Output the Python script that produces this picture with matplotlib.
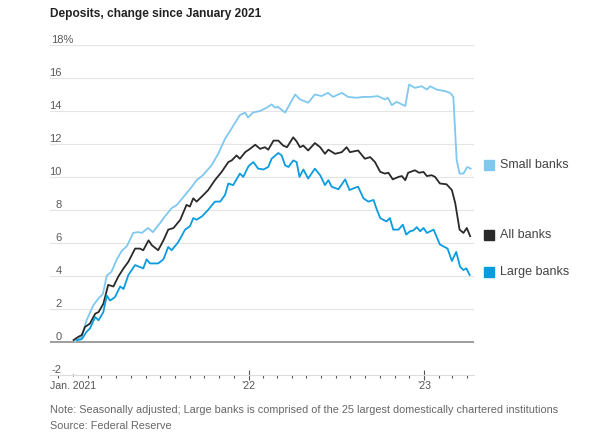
import matplotlib
matplotlib.use("Agg")
import matplotlib.pyplot as plt
import matplotlib.dates as mdates
import matplotlib.transforms as mtransforms
import pandas as pd

plt.rcParams['font.family'] = ['Liberation Sans', 'DejaVu Sans']

# Deposits, % change since January 2021
small_dates = ["2021-01-05", "2021-01-19", "2021-01-29", "2021-02-12", "2021-02-22", "2021-03-04",
               "2021-03-12", "2021-03-22", "2021-04-02", "2021-04-12", "2021-04-23", "2021-05-06",
               "2021-05-16", "2021-05-24", "2021-06-06", "2021-06-16", "2021-07-01", "2021-07-11",
               "2021-07-25", "2021-08-05", "2021-08-22", "2021-09-05", "2021-09-15", "2021-09-28",
               "2021-10-16", "2021-10-30", "2021-11-13", "2021-11-27", "2021-12-14", "2021-12-25",
               "2021-12-31", "2022-01-10", "2022-01-25", "2022-02-08", "2022-02-18", "2022-02-25",
               "2022-03-03", "2022-03-18", "2022-04-08", "2022-04-18", "2022-05-05", "2022-05-19",
               "2022-06-02", "2022-06-15", "2022-06-26", "2022-07-14", "2022-07-27", "2022-08-14",
               "2022-08-27", "2022-09-11", "2022-09-27", "2022-10-12", "2022-10-18", "2022-10-26",
               "2022-11-05", "2022-11-23", "2022-12-01", "2022-12-13", "2022-12-27", "2023-01-07",
               "2023-01-14", "2023-01-27", "2023-02-14", "2023-02-24", "2023-03-03", "2023-03-10",
               "2023-03-16", "2023-03-24", "2023-04-01", "2023-04-08"]
small_banks = [0.0, 0.3, 1.3, 2.2, 2.6, 2.9,
               4.0, 4.25, 5.0, 5.5, 5.8, 6.6,
               6.65, 6.6, 6.9, 6.65, 7.2, 7.6,
               8.1, 8.3, 8.9, 9.4, 9.8, 10.1,
               10.7, 11.4, 12.3, 12.95, 13.75, 13.9,
               13.6, 13.9, 14.0, 14.2, 14.4, 14.2,
               14.25, 13.9, 15.0, 14.7, 14.5, 15.0,
               14.9, 15.1, 14.85, 15.1, 14.85, 14.8,
               14.85, 14.85, 14.9, 14.7, 14.8, 14.35,
               14.55, 14.3, 15.6, 15.4, 15.5, 15.3,
               15.5, 15.3, 15.2, 15.1, 14.85, 11.0,
               10.2, 10.2, 10.6, 10.5]

all_dates = ["2021-01-02", "2021-01-12", "2021-01-19", "2021-01-26", "2021-02-05", "2021-02-16",
             "2021-02-23", "2021-03-05", "2021-03-15", "2021-03-26", "2021-04-05", "2021-04-16",
             "2021-04-26", "2021-05-10", "2021-05-20", "2021-05-27", "2021-06-07", "2021-06-14",
             "2021-06-27", "2021-07-08", "2021-07-18", "2021-07-29", "2021-08-12", "2021-08-25",
             "2021-09-01", "2021-09-08", "2021-09-15", "2021-09-29", "2021-10-09", "2021-10-23",
             "2021-11-06", "2021-11-20", "2021-11-27", "2021-12-07", "2021-12-14", "2021-12-25",
             "2022-01-04", "2022-01-15", "2022-01-25", "2022-02-04", "2022-02-11", "2022-02-22",
             "2022-03-04", "2022-03-14", "2022-03-22", "2022-04-04", "2022-04-11", "2022-04-18",
             "2022-04-25", "2022-05-05", "2022-05-19", "2022-05-30", "2022-06-09", "2022-06-16",
             "2022-06-30", "2022-07-14", "2022-07-24", "2022-07-31", "2022-08-17", "2022-08-31",
             "2022-09-11", "2022-09-21", "2022-10-02", "2022-10-12", "2022-10-19", "2022-10-28",
             "2022-11-09", "2022-11-16", "2022-11-23", "2022-11-29", "2022-12-13", "2022-12-22",
             "2022-12-31", "2023-01-07", "2023-01-17", "2023-01-24", "2023-02-03", "2023-02-17",
             "2023-02-28", "2023-03-07", "2023-03-16", "2023-03-24", "2023-03-31", "2023-04-07"]
all_banks = [0.1, 0.3, 0.4, 0.9, 1.1, 1.7,
             1.8, 2.3, 3.45, 3.35, 3.95, 4.45,
             4.85, 5.65, 5.65, 5.55, 6.15, 5.85,
             5.55, 6.15, 6.8, 6.9, 7.4, 8.3,
             8.2, 8.7, 8.5, 8.9, 9.2, 9.8,
             10.3, 10.9, 11.0, 11.3, 11.1, 11.5,
             11.7, 11.95, 11.7, 11.8, 11.65, 12.2,
             12.2, 11.9, 11.8, 12.4, 12.15, 11.8,
             11.9, 11.6, 12.05, 11.8, 11.4, 11.65,
             11.4, 11.5, 11.8, 11.5, 11.6, 11.1,
             11.2, 10.9, 10.3, 10.2, 10.25, 9.85,
             10.0, 10.05, 9.8, 10.25, 10.4, 10.25,
             10.3, 10.05, 10.1, 10.0, 9.6, 9.55,
             9.2, 8.4, 6.8, 6.6, 6.9, 6.4]

large_dates = ["2021-01-09", "2021-01-19", "2021-01-29", "2021-02-05", "2021-02-16", "2021-02-23",
               "2021-03-05", "2021-03-12", "2021-03-19", "2021-03-29", "2021-04-09", "2021-04-16",
               "2021-04-26", "2021-05-10", "2021-05-27", "2021-06-03", "2021-06-10", "2021-06-27",
               "2021-07-08", "2021-07-18", "2021-07-25", "2021-08-08", "2021-08-22", "2021-09-01",
               "2021-09-08", "2021-09-15", "2021-09-26", "2021-10-09", "2021-10-23", "2021-11-03",
               "2021-11-13", "2021-11-20", "2021-11-30", "2021-12-14", "2021-12-21", "2022-01-01",
               "2022-01-11", "2022-01-21", "2022-02-01", "2022-02-11", "2022-02-18", "2022-03-04",
               "2022-03-11", "2022-03-18", "2022-03-25", "2022-04-04", "2022-04-11", "2022-04-17",
               "2022-04-25", "2022-05-05", "2022-05-19", "2022-05-30", "2022-06-09", "2022-06-16",
               "2022-06-23", "2022-07-07", "2022-07-21", "2022-07-30", "2022-08-07", "2022-08-17",
               "2022-08-28", "2022-09-07", "2022-09-18", "2022-09-25", "2022-10-02", "2022-10-08",
               "2022-10-15", "2022-10-22", "2022-10-29", "2022-11-09", "2022-11-18", "2022-11-25",
               "2022-12-03", "2022-12-10", "2022-12-17", "2022-12-24", "2022-12-31", "2023-01-07",
               "2023-01-21", "2023-02-03", "2023-02-19", "2023-02-28", "2023-03-09", "2023-03-17",
               "2023-03-24", "2023-03-30", "2023-04-06"]
large_banks = [0.1, 0.15, 0.6, 0.8, 1.5, 1.3,
               1.8, 2.8, 2.5, 2.7, 3.35, 3.2,
               4.05, 4.65, 4.45, 5.0, 4.75, 4.75,
               5.0, 5.75, 5.55, 6.05, 6.8, 7.0,
               7.5, 7.4, 7.6, 8.0, 8.5, 8.5,
               8.9, 9.6, 9.5, 10.2, 10.0, 10.65,
               10.9, 10.5, 10.45, 10.6, 11.1, 11.45,
               11.3, 10.7, 10.6, 11.0, 10.9, 10.0,
               10.45, 9.9, 10.5, 10.1, 9.5, 9.8,
               9.4, 9.25, 9.85, 9.2, 9.3, 9.4,
               8.7, 8.5, 8.6, 8.0, 7.5, 7.4,
               7.3, 7.5, 6.8, 6.8, 7.1, 6.5,
               6.7, 6.75, 6.95, 6.7, 6.9, 6.6,
               6.8, 5.9, 5.65, 4.9, 5.45, 4.55,
               4.35, 4.45, 4.05]

series_names = ["Small banks", "All banks", "Large banks"]
series_colors = ["#80c8ee", "#2a2a2a", "#0b9ce0"]
label_y = [10.7, 6.5, 4.2]

y_ticks = [-2, 0, 2, 4, 6, 8, 10, 12, 14, 16]
x_ticks = ["2021-01-01", "2022-01-01", "2023-01-01"]
x_labels = ["Jan. 2021", "\u201922", "\u201923"]

fig = plt.figure(figsize=(6.02, 4.4), dpi=100)
ax = fig.add_axes([50 / 602, 1 - 374.7 / 440, 424 / 602, (374.7 - 45) / 440])

series = [(small_dates, small_banks), (all_dates, all_banks), (large_dates, large_banks)]
for (d, v), c in zip(series, series_colors):
    ax.plot(pd.to_datetime(d), v, color=c, lw=1.3, zorder=3, solid_joinstyle='round')

ax.set_ylim(-2, 18)
ax.set_xlim(pd.Timestamp("2020-11-14"), pd.Timestamp("2023-04-15"))

# gridlines
for t in range(2, 20, 2):
    ax.axhline(t, color="#e4e4e4", lw=0.8, zorder=1)
ax.axhline(0, color="#8c8c8c", lw=1.2, zorder=2)

for s in ["top", "right", "left"]:
    ax.spines[s].set_visible(False)
ax.spines["bottom"].set_color("#dddddd")
ax.spines["bottom"].set_linewidth(0.8)

# y labels sit just above gridlines
trans = mtransforms.blended_transform_factory(ax.transAxes, ax.transData)
ax.set_yticks([])
for t in y_ticks:
    ax.annotate(str(t), xy=(0.028, t), xycoords=trans, xytext=(0, 1.5),
                textcoords="offset points", ha="right", va="baseline",
                fontsize=8, color="#5a5a5a")
ax.annotate("18%", xy=(0.002, 18), xycoords=trans, xytext=(0, 1.5),
            textcoords="offset points", ha="left", va="baseline",
            fontsize=8, color="#5a5a5a")

# x ticks
ax.xaxis.set_minor_locator(mdates.MonthLocator())
ax.set_xticks(pd.to_datetime(x_ticks))
ax.set_xticklabels(x_labels, fontsize=7.6, color="#555555")
ax.tick_params(axis="x", which="minor", length=2, width=0.8, color="#555555", direction="out")
ax.tick_params(axis="x", which="major", length=7, width=0.8, color="#555555",
               direction="inout", pad=1)
ax.xaxis.get_major_ticks()[0].tick1line.set_markersize(2)

# labels at right
for name, c, y in zip(series_names, series_colors, label_y):
    ax.plot([1.036], [y], marker="s", ms=6.5, color=c, transform=trans, clip_on=False)
    ax.text(1.062, y, name, transform=trans, va="center", ha="left",
            fontsize=9, color="#444444")

fig.text(50 / 602, 1 - 14 / 440, "Deposits, change since January 2021",
         fontsize=8.6, fontweight="bold", color="#222222", va="center", ha="left")
fig.text(50 / 602, 1 - 410 / 440,
         "Note: Seasonally adjusted; Large banks is comprised of the 25 largest domestically chartered institutions",
         fontsize=7.8, color="#666666", va="center", ha="left")
fig.text(50 / 602, 1 - 426 / 440, "Source: Federal Reserve",
         fontsize=7.8, color="#666666", va="center", ha="left")

fig.savefig("out.png", dpi=100)
